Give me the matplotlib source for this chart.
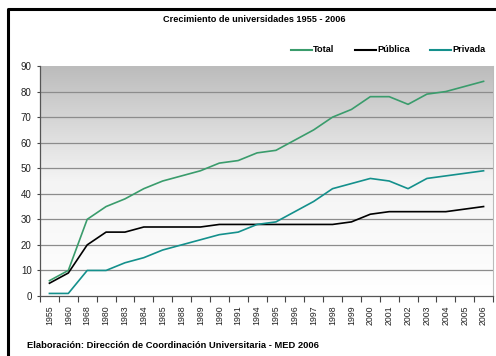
import numpy as np
import matplotlib
matplotlib.use('Agg')
import matplotlib.pyplot as plt
from matplotlib.lines import Line2D

years = ['1955', '1960', '1968', '1980', '1983', '1984', '1985', '1988', '1989',
         '1990', '1991', '1994', '1995', '1996', '1997', '1998', '1999', '2000',
         '2001', '2002', '2003', '2004', '2005', '2006']
total = [6, 10, 30, 35, 38, 42, 45, 47, 49, 52, 53, 56, 57, 61, 65, 70, 73, 78,
         78, 75, 79, 80, 82, 84]
publica = [5, 9, 20, 25, 25, 27, 27, 27, 27, 28, 28, 28, 28, 28, 28, 28, 29, 32,
           33, 33, 33, 33, 34, 35]
privada = [1, 1, 10, 10, 13, 15, 18, 20, 22, 24, 25, 28, 29, 33, 37, 42, 44, 46,
           45, 42, 46, 47, 48, 49]

series = [('Total', total, '#3a9c6c'),
          ('Pública', publica, '#000000'),
          ('Privada', privada, '#14908c')]

plt.rcParams['font.family'] = ['Liberation Sans', 'DejaVu Sans']

fig = plt.figure(figsize=(4.96, 3.56), dpi=100)
W, H = 496, 356
ax = fig.add_axes([40 / W, 1 - 296 / H, 453 / W, 230 / H])

n = len(years)
x = np.arange(n)

# gradient background: grey at top, white at bottom
grad = np.linspace(0, 1, 256).reshape(-1, 1)
ax.imshow(grad, cmap=matplotlib.colors.LinearSegmentedColormap.from_list(
    'g', ['#ffffff', '#f4f4f4', '#bcbcbc']), aspect='auto',
    extent=[-0.5, n - 0.5, 0, 90], origin='lower', zorder=0)

for v in range(10, 90, 10):
    ax.axhline(v, color='#8c8c8c', lw=0.9, zorder=1)

for name, vals, col in series:
    ax.plot(x, vals, color=col, lw=1.2, label=name, zorder=3)

ax.set_xlim(-0.5, n - 0.5)
ax.set_ylim(0, 90)
ax.set_yticks(range(0, 91, 10))
ax.set_xticks(x)
ax.set_xticklabels(years, rotation=90, fontsize=6.3, color='#222222')
ax.set_xticks(np.arange(-0.5, n, 1), minor=True)
ax.tick_params(axis='x', which='major', length=0, pad=7)
ax.tick_params(axis='x', which='minor', length=4, width=0.8, color='#444444', direction='out')
ax.tick_params(axis='y', length=2.5, width=0.8, color='#444444', labelsize=7, labelcolor='#222222', pad=3.5)

for s in ['left', 'bottom']:
    ax.spines[s].set_color('#555555')
    ax.spines[s].set_linewidth(0.9)
ax.spines['right'].set_color('#bbbbbb')
ax.spines['right'].set_linewidth(0.8)
ax.spines['top'].set_visible(False)

fig.text(254 / W, 1 - 20 / H, 'Crecimiento de universidades 1955 - 2006',
         ha='center', va='center', fontsize=6.6, fontweight='bold')

# legend drawn by hand to match item spacing
leg_x = [291, 355, 430]
leg_y = 1 - 50 / H
for (name, vals, col), lx in zip(series, leg_x):
    fig.add_artist(Line2D([lx / W, (lx + 21) / W], [leg_y, leg_y],
                          transform=fig.transFigure, color=col, lw=1.5))
    fig.text((lx + 22) / W, leg_y, name, ha='left', va='center',
             fontsize=6.6, fontweight='bold')

fig.text(27 / W, 1 - 345 / H,
         'Elaboración: Dirección de Coordinación Universitaria - MED 2006',
         ha='left', va='center', fontsize=6.75, fontweight='bold')

# outer frame (left and top)
fig.add_artist(Line2D([7.5 / W, 7.5 / W, 1.05], [-0.05, 1 - 8.5 / H, 1 - 8.5 / H],
                      transform=fig.transFigure, color='black', lw=2.2))

fig.savefig('out.png', dpi=100)
